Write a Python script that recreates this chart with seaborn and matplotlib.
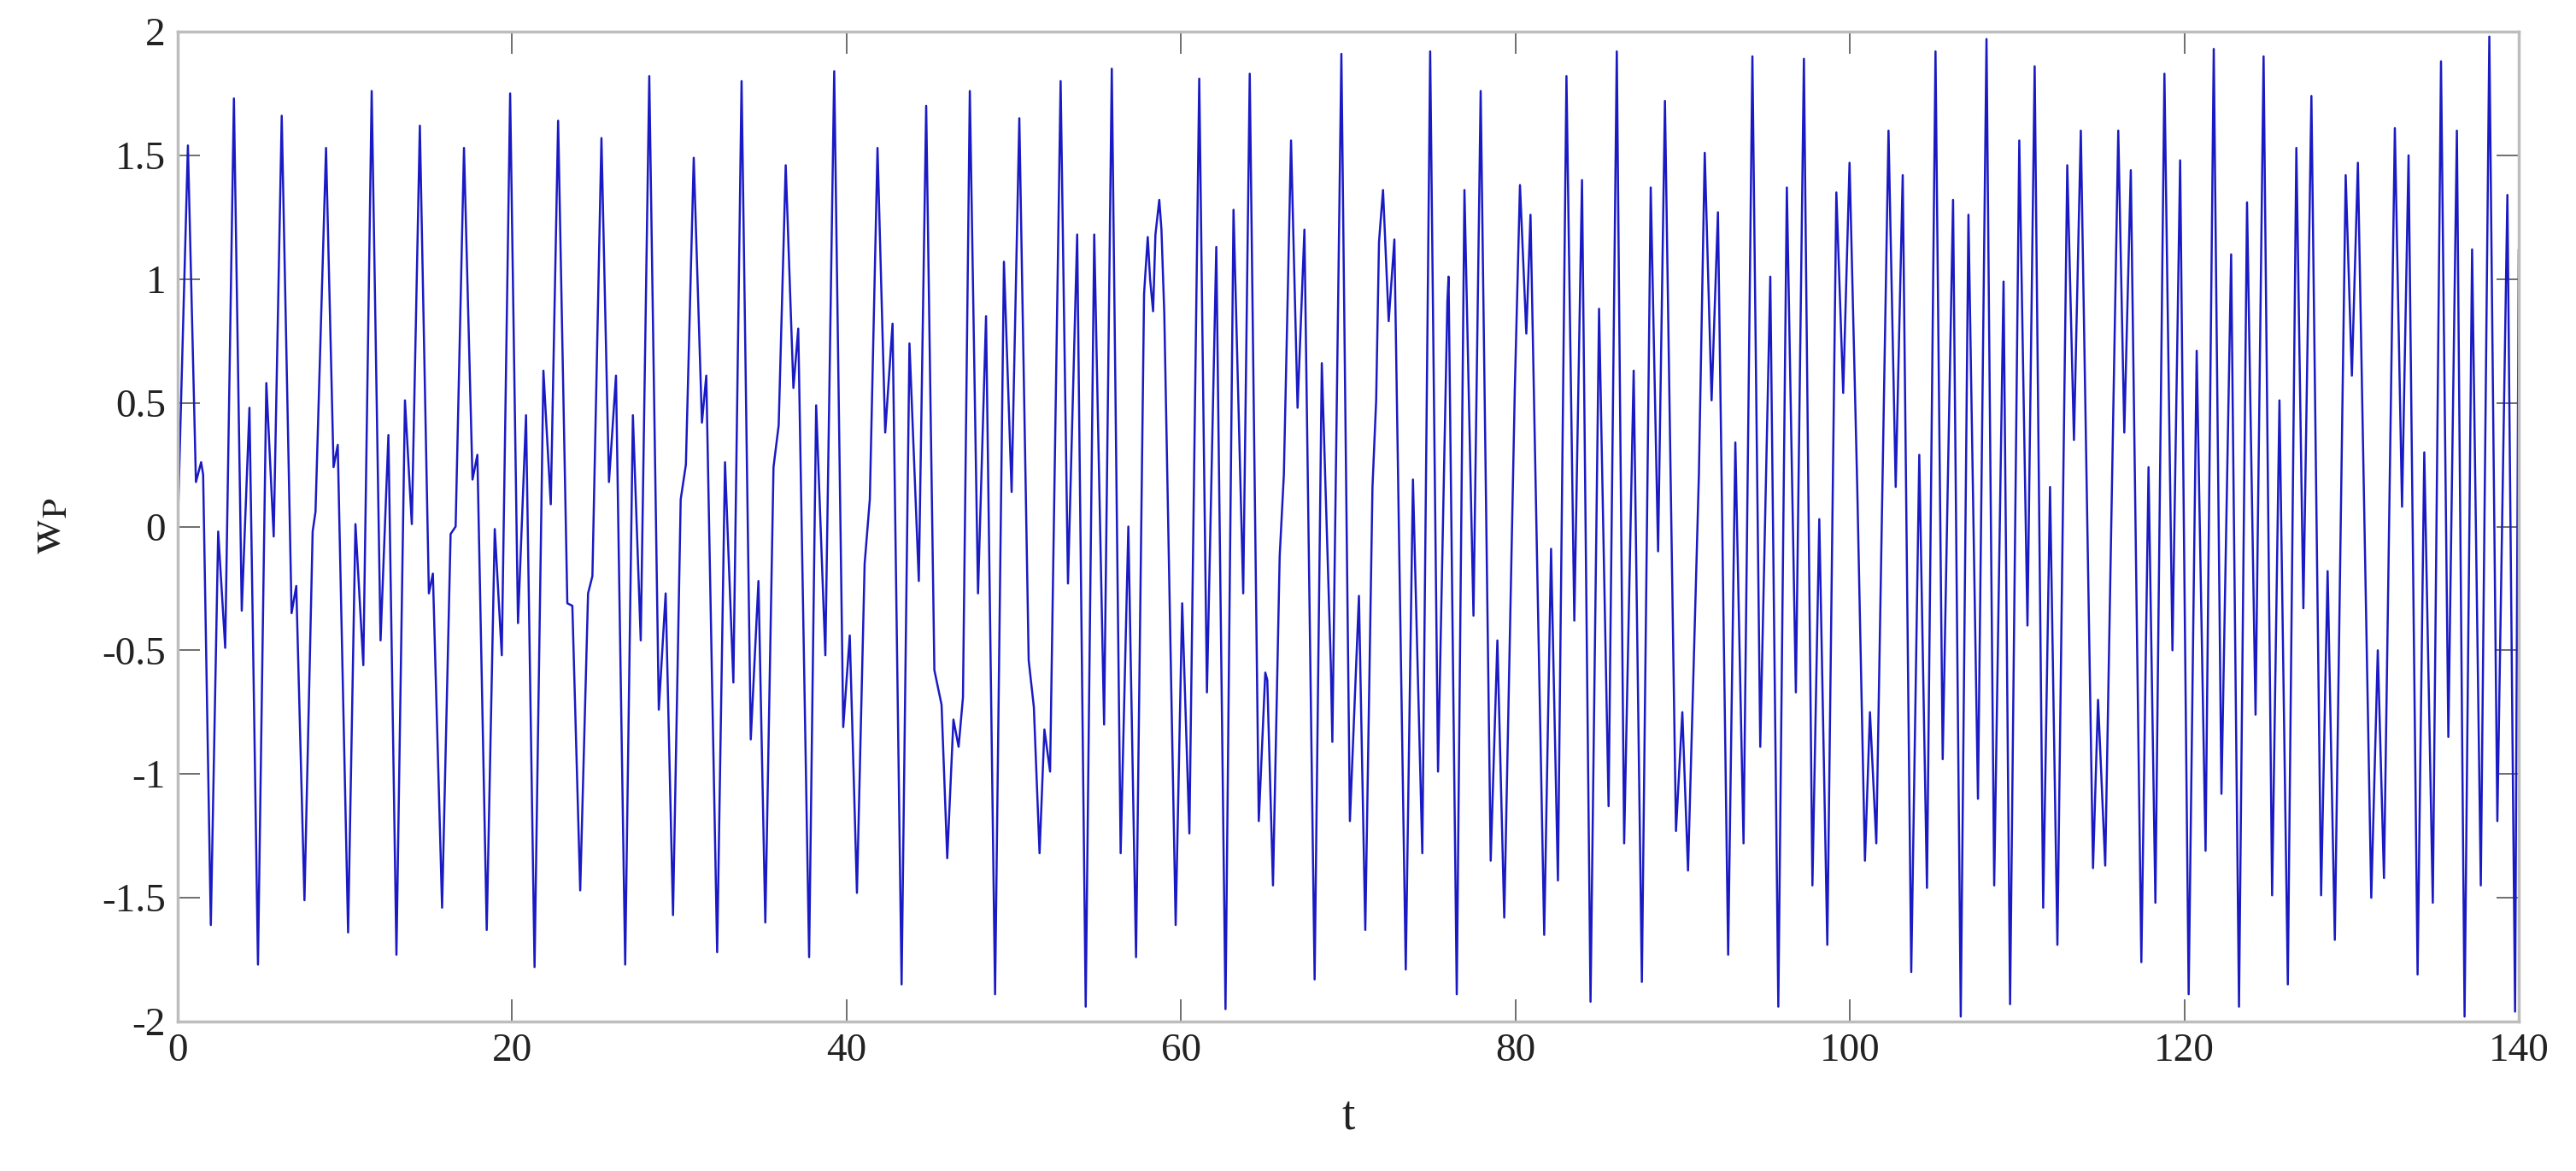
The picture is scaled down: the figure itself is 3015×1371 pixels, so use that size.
import matplotlib
matplotlib.use("Agg")
import matplotlib.pyplot as plt
import seaborn as sns
import pandas as pd

# ---- data (t, w_P at extrema / shape points) ----
t_vals = [
    0.0, 0.61, 1.09, 1.40, 1.52, 1.98, 2.42, 2.84, 3.36, 3.83, 4.29, 4.80, 5.30, 5.74, 6.22,
    6.81, 7.09, 7.58, 8.07, 8.24, 8.87, 9.32, 9.57, 10.19, 10.63, 11.10, 11.60, 12.13, 12.60,
    13.08, 13.59, 14.00, 14.48, 15.02, 15.26, 15.81, 16.32, 16.62, 17.12, 17.63, 17.92, 18.48,
    18.96, 19.38, 19.88, 20.35, 20.83, 21.34, 21.87, 22.31, 22.75, 23.30, 23.60, 24.07, 24.54,
    24.80, 25.34, 25.79, 26.21, 26.76, 27.22, 27.69, 28.20, 28.77, 29.18, 29.62, 30.08, 30.39,
    30.86, 31.35, 31.61, 32.26, 32.73, 33.23, 33.72, 34.27, 34.73, 35.14, 35.63, 35.94, 36.36,
    36.82, 37.11, 37.76, 38.18, 38.73, 39.26, 39.80, 40.19, 40.62, 41.08, 41.39, 41.85, 42.31,
    42.75, 43.29, 43.76, 44.32, 44.76, 45.25, 45.68, 46.02, 46.39, 46.70, 46.96, 47.37, 47.86,
    48.34, 48.88, 49.41, 49.87, 50.33, 50.89, 51.20, 51.54, 51.83, 52.17, 52.80, 53.24, 53.79,
    54.30, 54.81, 55.40, 55.86, 56.39, 56.85, 57.31, 57.79, 58.01, 58.15, 58.33, 58.47, 58.70,
    58.83, 59.00, 59.68, 60.07, 60.50, 61.09, 61.55, 62.11, 62.66, 63.14, 63.72, 64.11, 64.65,
    65.04, 65.16, 65.50, 65.90, 66.15, 66.58, 66.97, 67.38, 67.99, 68.42, 68.96, 69.05, 69.59,
    70.10, 70.64, 71.02, 71.45, 71.67, 71.84, 72.08, 72.42, 72.76, 73.44, 73.87, 74.43, 74.90,
    75.37, 75.93, 76.00, 76.49, 76.95, 77.49, 77.92, 78.52, 78.92, 79.33, 79.96, 80.27, 80.65,
    80.90, 81.72, 82.13, 82.54, 83.05, 83.52, 83.98, 84.49, 85.00, 85.57, 86.06, 86.50, 87.07,
    87.56, 88.09, 88.53, 88.94, 89.60, 89.98, 90.32, 90.97, 91.32, 91.73, 92.11, 92.72, 93.15,
    93.64, 94.17, 94.64, 95.24, 95.72, 96.23, 96.77, 97.25, 97.76, 98.17, 98.65, 99.19, 99.60,
    99.98, 100.44, 100.90, 101.20, 101.58, 102.31, 102.74, 103.16, 103.67, 104.15, 104.61,
    105.12, 105.55, 106.17, 106.63, 107.09, 107.66, 108.17, 108.63, 109.19, 109.58, 110.13,
    110.62, 111.05, 111.56, 111.97, 112.41, 113.00, 113.40, 113.81, 114.54, 114.84, 115.27,
    116.05, 116.41, 116.80, 117.43, 117.86, 118.27, 118.81, 119.29, 119.75, 120.26, 120.74,
    121.27, 121.76, 122.22, 122.80, 123.27, 123.75, 124.26, 124.74, 125.25, 125.69, 126.19,
    126.70, 127.12, 127.60, 128.18, 128.57, 129.00, 129.65, 130.02, 130.38, 131.18, 131.57,
    131.94, 132.59, 133.02, 133.41, 133.95, 134.35, 134.86, 135.35, 135.79, 136.30, 136.76,
    137.21, 137.73, 138.24, 138.72, 139.32, 139.78, 140.00,
]
w_vals = [
    0.00, 1.54, 0.18, 0.26, 0.21, -1.61, -0.02, -0.49, 1.73, -0.34, 0.48, -1.77, 0.58, -0.04, 1.66,
    -0.35, -0.24, -1.51, -0.02, 0.06, 1.53, 0.24, 0.33, -1.64, 0.01, -0.56, 1.76, -0.46, 0.37,
    -1.73, 0.51, 0.01, 1.62, -0.27, -0.19, -1.54, -0.03, 0.00, 1.53, 0.19, 0.29, -1.63,
    -0.01, -0.52, 1.75, -0.39, 0.45, -1.78, 0.63, 0.09, 1.64, -0.31, -0.32, -1.47, -0.27,
    -0.20, 1.57, 0.18, 0.61, -1.77, 0.45, -0.46, 1.82, -0.74, -0.27, -1.57, 0.11, 0.25,
    1.49, 0.42, 0.61, -1.72, 0.26, -0.63, 1.80, -0.86, -0.22, -1.60, 0.24, 0.41, 1.46,
    0.56, 0.80, -1.74, 0.49, -0.52, 1.84, -0.81, -0.44, -1.48, -0.15, 0.11, 1.53, 0.38,
    0.82, -1.85, 0.74, -0.22, 1.70, -0.58, -0.72, -1.34, -0.78, -0.89, -0.69, 1.76, -0.27,
    0.85, -1.89, 1.07, 0.14, 1.65, -0.54, -0.73, -1.32, -0.82, -0.99, 1.80, -0.23, 1.18,
    -1.94, 1.18, -0.80, 1.85, -1.32, 0.00, -1.74, 0.94, 1.17, 1.00, 0.87, 1.18, 1.32,
    1.20, 0.86, -1.61, -0.31, -1.24, 1.81, -0.67, 1.13, -1.95, 1.28, -0.27, 1.83, -1.19,
    -0.59, -0.62, -1.45, -0.12, 0.21, 1.56, 0.48, 1.20, -1.83, 0.66, -0.56, -0.87, 1.91,
    -1.19, -0.28, -1.63, 0.16, 0.51, 1.15, 1.36, 0.83, 1.16, -1.79, 0.19, -1.32, 1.92,
    -0.99, 0.91, 1.01, -1.89, 1.36, -0.36, 1.76, -1.35, -0.46, -1.58, 0.55, 1.38, 0.78,
    1.26, -1.65, -0.09, -1.43, 1.82, -0.38, 1.40, -1.92, 0.88, -1.13, 1.92, -1.28, 0.63,
    -1.84, 1.37, -0.10, 1.72, -1.23, -0.75, -1.39, 0.21, 1.51, 0.51, 1.27, -1.73, 0.34,
    -1.28, 1.90, -0.89, 1.01, -1.94, 1.37, -0.67, 1.89, -1.45, 0.03, -1.69, 1.35, 0.54,
    1.47, 0.16, -1.35, -0.75, -1.28, 1.60, 0.16, 1.42, -1.80, 0.29, -1.46,
    1.92, -0.94, 1.32, -1.98, 1.26, -1.10, 1.97, -1.45, 0.99, -1.93, 1.56,
    -0.40, 1.86, -1.54, 0.16, -1.69, 1.46, 0.35, 1.60, -1.38, -0.70, -1.37,
    1.60, 0.38, 1.44, -1.76, 0.24, -1.52, 1.83, -0.50, 1.48, -1.89, 0.71,
    -1.31, 1.93, -1.08, 1.10, -1.94, 1.31, -0.76, 1.90, -1.49, 0.51, -1.85,
    1.53, -0.33, 1.74, -1.49, -0.18, -1.67, 1.42, 0.61, 1.47, -1.50, -0.50,
    -1.42, 1.61, 0.08, 1.50, -1.81, 0.30, -1.52, 1.88, -0.85, 1.60, -1.98,
    1.12, -1.45, 1.98, -1.19, 1.34, -1.96, 1.12,
]
x_ticks = [0, 20, 40, 60, 80, 100, 120, 140]
y_ticks = [-2, -1.5, -1, -0.5, 0, 0.5, 1, 1.5, 2]
y_tick_labels = ["-2", "-1.5", "-1", "-0.5", "0", "0.5", "1", "1.5", "2"]
x_label = "t"
y_label = r"$\mathrm{w_{P}}$"

df = pd.DataFrame({"t": t_vals, "w": w_vals})

sns.set_theme(style="white")
plt.rcParams["font.family"] = ["Liberation Serif", "DejaVu Serif"]
plt.rcParams["mathtext.fontset"] = "stix"
plt.rcParams["axes.unicode_minus"] = False

fig = plt.figure(figsize=(30.15, 13.71), dpi=100)
ax = fig.add_axes([208 / 3015, 1 - 1196 / 1371, (2948 - 208) / 3015, (1196 - 37) / 1371])

sns.lineplot(data=df, x="t", y="w", ax=ax, color="#1a1ac4", linewidth=1.8,
             estimator=None, sort=False)

ax.set_xlim(0, 140)
ax.set_ylim(-2, 2)
ax.set_xticks(x_ticks)
ax.set_xticklabels([str(v) for v in x_ticks])
ax.set_yticks(y_ticks)
ax.set_yticklabels(y_tick_labels)
ax.tick_params(direction="in", length=19, width=1.2, color="#555555",
               labelsize=34, labelcolor="#222222", top=True, right=True,
               bottom=True, left=True, pad=10)
for s in ax.spines.values():
    s.set_color("#bdbdbd")
    s.set_linewidth(2.5)
ax.set_xlabel(x_label, fontsize=40, color="#222222", labelpad=22)
ax.set_ylabel(y_label, fontsize=42, color="#222222", labelpad=26)

fig.savefig("out.png", dpi=100, facecolor="white")
